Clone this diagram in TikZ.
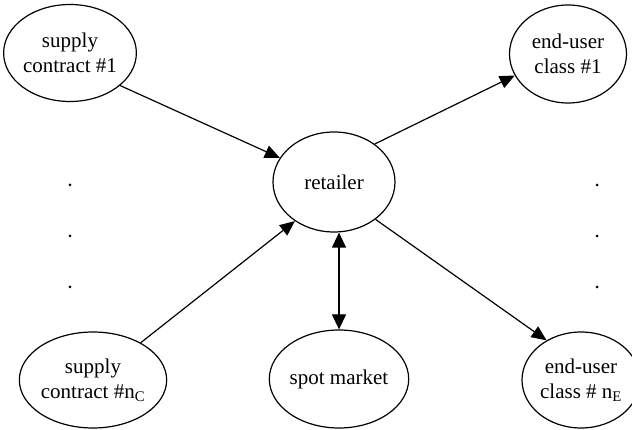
\documentclass[tikz,border=0pt]{standalone}
\usepackage{fontspec}
\setmainfont{Liberation Serif}
\usetikzlibrary{shapes.geometric,arrows.meta}

\tikzset{
  party/.style={ellipse, draw, line width=1.2pt, inner sep=0pt, align=center,
                font=\fontsize{21}{25}\selectfont},
  flow/.style={line width=1.2pt, -{Triangle[length=15pt,width=13pt]}},
  twoway/.style={line width=1.2pt, {Triangle[length=15pt,width=14pt]}-{Triangle[length=15pt,width=14pt]}},
}

\begin{document}
\begin{tikzpicture}[x=1pt,y=-1pt]
\useasboundingbox (0,0) rectangle (632,430);

% suppliers on the left
\node [party,minimum width=120pt,minimum height=97pt] (sc1) at (70,53) {supply\\contract \#1};
\node [party,minimum width=120pt,minimum height=96pt] (scn) at (93,380) {supply\\contract \#n\textsubscript{C}};

% retailer and spot market
\node [party,minimum width=122pt,minimum height=100pt] (ret) at (334,182) {retailer};
\node [party,minimum width=117pt,minimum height=98pt] (spot) at (339,379) {spot market};

% end-user classes on the right
\node [party,minimum width=117pt,minimum height=98pt] (eu1) at (568,54) {end-user\\class \#1};
\node [party,minimum width=118pt,minimum height=96pt] (eun) at (581,380) {end-user\\class \# n\textsubscript{E}};

% vertical dots
\foreach \y in {185,236,287} {
  \fill (70,\y) circle (1.5pt);
  \fill (597,\y) circle (1.5pt);
}

\draw [flow] (sc1.-33) -- (ret.156);
\draw [flow] (scn.38) -- (ret.225);
\draw [flow] (ret.43) -- (eu1.202);
\draw [flow] (ret.-42) -- (eun.131);
\draw [twoway] (ret.south -| spot.north) -- (spot.north);

\end{tikzpicture}
\end{document}
